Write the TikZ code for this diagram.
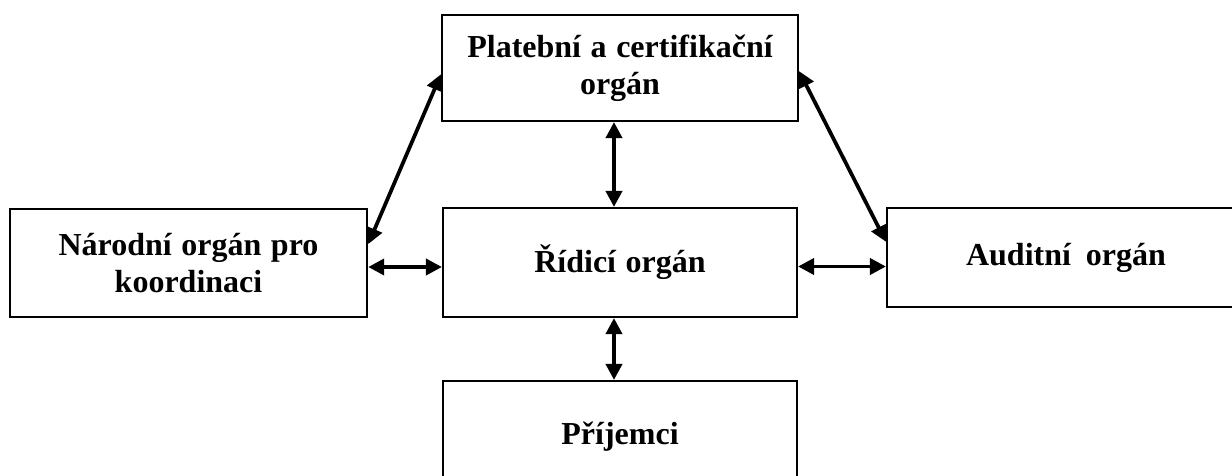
\documentclass[tikz,border=0pt]{standalone}
\usepackage{fontspec}
\setmainfont{Liberation Serif}[WordSpace=1.2]
\usetikzlibrary{arrows.meta}

\tikzset{
  organ/.style={draw, line width=1.6pt, align=center,
    font=\fontsize{24}{28}\selectfont\bfseries},
  link/.style={{Triangle[length=12pt,width=12pt]}-{Triangle[length=12pt,width=12pt]},
    line width=2.8pt}
}

\begin{document}
\begin{tikzpicture}[x=0.75pt,y=-0.75pt]
  \useasboundingbox (0,0) rectangle (1232,475);
  \clip (0,0) rectangle (1232,475);

  \node[organ, minimum width=267pt, minimum height=79.5pt] (platebni) at (620,68) {Platební a certifikační\\orgán};
  \node[organ, minimum width=268pt, minimum height=81pt] (narodni) at (188.5,263) {Národní orgán pro\\koordinaci};
  \node[organ, minimum width=265.5pt, minimum height=81.75pt] (ridici) at (620,262.5) {Řídicí orgán};
  \node[organ, minimum width=268.5pt, minimum height=74.25pt] (auditni) at (1066,257.5) {Auditní\, orgán};
  \node[organ, minimum width=265.5pt, minimum height=84pt] (prijemci) at (620,437) {Příjemci};

  \draw[link] (narodni.6) -- (platebni.182);
  \draw[link] (platebni.-1) -- (auditni.175);
  \draw[link] ([xshift=-4.5pt]platebni.south) -- ([xshift=-4.5pt]ridici.north);
  \draw[link] ([yshift=-3pt]narodni.east) -- ([yshift=-3pt]narodni.east -| ridici.west);
  \draw[link] ([yshift=-3pt]ridici.east) -- ([yshift=-3pt]ridici.east -| auditni.west);
  \draw[link] ([xshift=-4.5pt]ridici.south) -- ([xshift=-4.5pt]prijemci.north);
\end{tikzpicture}
\end{document}
